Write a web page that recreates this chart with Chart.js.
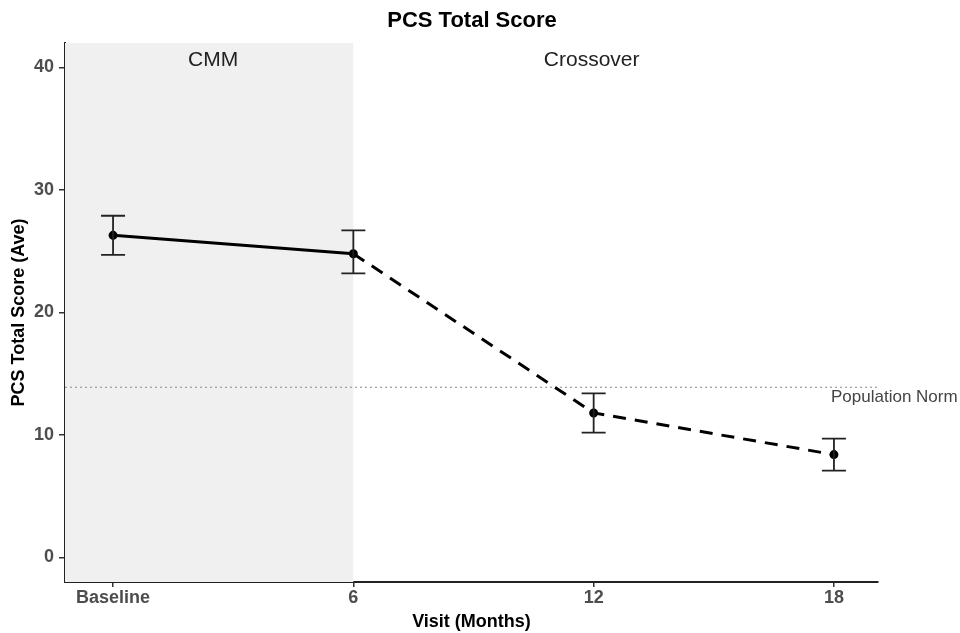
<!DOCTYPE html>
<html>
<head>
<meta charset="utf-8">
<script src="https://cdn.jsdelivr.net/npm/chart.js@4.4.0/dist/chart.umd.min.js"></script>
<style>
  html, body { margin: 0; padding: 0; background: #fff; }
  #wrap { width: 960px; height: 633px; }
</style>
</head>
<body>
<div id="wrap"><canvas id="pcsChart" width="960" height="633"></canvas></div>
<script>
// data
const visitLabels = ["Baseline", "6", "12", "18"];
const visitMonths = [0, 6, 12, 18];
const meanScore = [26.3, 24.8, 11.8, 8.4];
const lowerScore = [24.7, 23.2, 10.2, 7.1];
const upperScore = [27.9, 26.7, 13.4, 9.7];
const yTicks = [0, 10, 20, 30, 40];
const populationNorm = 13.9;
const phaseLabels = ["CMM", "Crossover"];
const phaseSplit = 6;

const X_MIN = -1.2, X_MAX = 19.1;
const FONT = "'Liberation Sans', Arial, sans-serif";

// shaded CMM phase + phase labels
const phasePlugin = {
  id: "phase",
  beforeDatasetsDraw(chart) {
    const { ctx, chartArea, scales } = chart;
    const xs = scales.x.getPixelForValue(phaseSplit);
    ctx.save();
    ctx.fillStyle = "#f0f0f0";
    ctx.fillRect(chartArea.left, chartArea.top, xs - chartArea.left, chartArea.bottom - chartArea.top);
    ctx.fillStyle = "#222";
    ctx.font = "21px " + FONT;
    ctx.textAlign = "center";
    ctx.textBaseline = "middle";
    ctx.fillText(phaseLabels[0], (chartArea.left + xs) / 2 + 4, 60);
    ctx.fillText(phaseLabels[1], scales.x.getPixelForValue(12) - 2, 60);
    ctx.restore();
  }
};

// error bars, title and population norm label
const extrasPlugin = {
  id: "extras",
  afterDatasetsDraw(chart) {
    const { ctx, scales } = chart;
    ctx.save();
    ctx.strokeStyle = "#222";
    ctx.lineWidth = 1.8;
    visitMonths.forEach((m, i) => {
      const x = scales.x.getPixelForValue(m);
      const yl = scales.y.getPixelForValue(lowerScore[i]);
      const yu = scales.y.getPixelForValue(upperScore[i]);
      ctx.beginPath();
      ctx.moveTo(x, yl); ctx.lineTo(x, yu);
      ctx.moveTo(x - 12, yl); ctx.lineTo(x + 12, yl);
      ctx.moveTo(x - 12, yu); ctx.lineTo(x + 12, yu);
      ctx.stroke();
    });
    ctx.fillStyle = "#444";
    ctx.font = "17px " + FONT;
    ctx.textAlign = "left";
    ctx.textBaseline = "middle";
    ctx.fillText("Population Norm", 831, scales.y.getPixelForValue(populationNorm) + 10);
    ctx.fillStyle = "#000";
    ctx.font = "bold 22px " + FONT;
    ctx.textAlign = "center";
    ctx.fillText("PCS Total Score", 472, 21);
    ctx.restore();
  }
};

const points = visitMonths.map((m, i) => ({ x: m, y: meanScore[i] }));

new Chart(document.getElementById("pcsChart"), {
  type: "line",
  data: {
    datasets: [
      {
        data: points,
        borderColor: "#000",
        backgroundColor: "#000",
        borderWidth: 3,
        pointRadius: 3,
        pointHoverRadius: 3,
        segment: {
          borderDash: c => c.p0DataIndex >= 1 ? [13, 9] : undefined
        }
      },
      {
        data: [{ x: X_MIN, y: populationNorm }, { x: X_MAX, y: populationNorm }],
        borderColor: "#888",
        borderWidth: 1.2,
        borderDash: [2, 3],
        pointRadius: 0
      }
    ]
  },
  options: {
    responsive: false,
    animation: false,
    layout: { padding: { top: 43, right: 82, left: 0, bottom: 0 } },
    plugins: { legend: { display: false }, tooltip: { enabled: false } },
    scales: {
      x: {
        type: "linear",
        min: X_MIN,
        max: X_MAX,
        afterBuildTicks: s => { s.ticks = visitMonths.map(v => ({ value: v })); },
        afterFit: s => { s.height = 51; },
        ticks: {
          callback: v => visitLabels[visitMonths.indexOf(v)],
          color: "#4d4d4d",
          font: { family: FONT, size: 18, weight: "bold" },
          padding: 0,
          maxRotation: 0
        },
        grid: { drawOnChartArea: false, drawTicks: true, tickLength: 5, color: "#333", lineWidth: 1.5 },
        border: { display: true, color: "#222", width: 2 },
        title: {
          display: true,
          text: "Visit (Months)",
          color: "#000",
          font: { family: FONT, size: 18, weight: "bold" },
          padding: { top: 0, bottom: 0 }
        }
      },
      y: {
        type: "linear",
        min: -2,
        max: 42,
        afterBuildTicks: s => { s.ticks = yTicks.map(v => ({ value: v })); },
        afterFit: s => { s.width = 65; },
        ticks: {
          color: "#4d4d4d",
          font: { family: FONT, size: 18, weight: "bold" },
          padding: 5
        },
        grid: { drawOnChartArea: false, drawTicks: true, tickLength: 6, color: "#333", lineWidth: 1.5 },
        border: { display: true, color: "#222", width: 2 },
        title: {
          display: true,
          text: "PCS Total Score (Ave)",
          color: "#000",
          font: { family: FONT, size: 18, weight: "bold" },
          padding: { top: 8, bottom: 0 }
        }
      }
    }
  },
  plugins: [phasePlugin, extrasPlugin]
});
</script>
</body>
</html>
